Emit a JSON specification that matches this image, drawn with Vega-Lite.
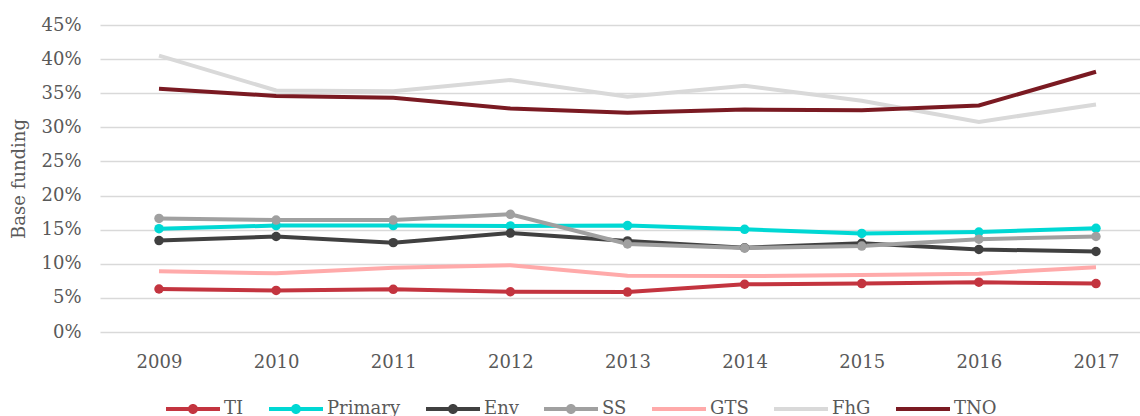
{
  "$schema": "https://vega.github.io/schema/vega-lite/v6.json",
  "autosize": {"type": "none"},
  "width": 1040,
  "height": 307,
  "padding": {"left": 100, "top": 25, "right": 0, "bottom": 84},
  "background": "white",
  "config": {
    "view": {"stroke": null},
    "font": "DejaVu Serif",
    "axis": {"labelFont": "DejaVu Serif", "titleFont": "DejaVu Serif", "labelColor": "#595959", "titleColor": "#595959", "labelFontSize": 18, "titleFontSize": 18, "titleFontWeight": "normal"},
    "legend": {"labelFont": "DejaVu Serif", "labelFontSize": 18, "labelColor": "#595959"}
  },
  "data": {"values": [
    {"year": "2009", "series": "TI", "v": 0.063}, {"year": "2010", "series": "TI", "v": 0.061}, {"year": "2011", "series": "TI", "v": 0.0625}, {"year": "2012", "series": "TI", "v": 0.059}, {"year": "2013", "series": "TI", "v": 0.0585}, {"year": "2014", "series": "TI", "v": 0.070}, {"year": "2015", "series": "TI", "v": 0.071}, {"year": "2016", "series": "TI", "v": 0.073}, {"year": "2017", "series": "TI", "v": 0.071},
    {"year": "2009", "series": "Primary", "v": 0.1515}, {"year": "2010", "series": "Primary", "v": 0.156}, {"year": "2011", "series": "Primary", "v": 0.156}, {"year": "2012", "series": "Primary", "v": 0.1555}, {"year": "2013", "series": "Primary", "v": 0.156}, {"year": "2014", "series": "Primary", "v": 0.1505}, {"year": "2015", "series": "Primary", "v": 0.1445}, {"year": "2016", "series": "Primary", "v": 0.1465}, {"year": "2017", "series": "Primary", "v": 0.152},
    {"year": "2009", "series": "Env", "v": 0.134}, {"year": "2010", "series": "Env", "v": 0.140}, {"year": "2011", "series": "Env", "v": 0.131}, {"year": "2012", "series": "Env", "v": 0.145}, {"year": "2013", "series": "Env", "v": 0.1335}, {"year": "2014", "series": "Env", "v": 0.1235}, {"year": "2015", "series": "Env", "v": 0.130}, {"year": "2016", "series": "Env", "v": 0.121}, {"year": "2017", "series": "Env", "v": 0.118},
    {"year": "2009", "series": "SS", "v": 0.1665}, {"year": "2010", "series": "SS", "v": 0.164}, {"year": "2011", "series": "SS", "v": 0.164}, {"year": "2012", "series": "SS", "v": 0.1725}, {"year": "2013", "series": "SS", "v": 0.129}, {"year": "2014", "series": "SS", "v": 0.123}, {"year": "2015", "series": "SS", "v": 0.126}, {"year": "2016", "series": "SS", "v": 0.136}, {"year": "2017", "series": "SS", "v": 0.140},
    {"year": "2009", "series": "GTS", "v": 0.089}, {"year": "2010", "series": "GTS", "v": 0.086}, {"year": "2011", "series": "GTS", "v": 0.094}, {"year": "2012", "series": "GTS", "v": 0.098}, {"year": "2013", "series": "GTS", "v": 0.0825}, {"year": "2014", "series": "GTS", "v": 0.082}, {"year": "2015", "series": "GTS", "v": 0.0835}, {"year": "2016", "series": "GTS", "v": 0.0855}, {"year": "2017", "series": "GTS", "v": 0.095},
    {"year": "2009", "series": "FhG", "v": 0.405}, {"year": "2010", "series": "FhG", "v": 0.354}, {"year": "2011", "series": "FhG", "v": 0.353}, {"year": "2012", "series": "FhG", "v": 0.3695}, {"year": "2013", "series": "FhG", "v": 0.345}, {"year": "2014", "series": "FhG", "v": 0.361}, {"year": "2015", "series": "FhG", "v": 0.339}, {"year": "2016", "series": "FhG", "v": 0.308}, {"year": "2017", "series": "FhG", "v": 0.3335},
    {"year": "2009", "series": "TNO", "v": 0.3565}, {"year": "2010", "series": "TNO", "v": 0.346}, {"year": "2011", "series": "TNO", "v": 0.3435}, {"year": "2012", "series": "TNO", "v": 0.3275}, {"year": "2013", "series": "TNO", "v": 0.3215}, {"year": "2014", "series": "TNO", "v": 0.326}, {"year": "2015", "series": "TNO", "v": 0.325}, {"year": "2016", "series": "TNO", "v": 0.332}, {"year": "2017", "series": "TNO", "v": 0.3815}
  ]},
  "encoding": {
    "x": {"field": "year", "type": "ordinal", "sort": null,
      "scale": {"type": "point", "padding": 0.4397, "align": 0.5728},
      "axis": {"title": null, "labelAngle": 0, "domain": false, "ticks": false, "grid": false, "labelPadding": 21}},
    "y": {"field": "v", "type": "quantitative",
      "scale": {"domain": [0, 0.45], "nice": false},
      "axis": {"title": "Base funding", "values": [0, 0.05, 0.1, 0.15, 0.2, 0.25, 0.3, 0.35, 0.4, 0.45], "format": ".0%", "domain": false, "ticks": false, "grid": true, "gridColor": "#D9D9D9", "gridWidth": 1.5, "labelPadding": 19, "titlePadding": 12}},
    "color": {"field": "series", "type": "nominal",
      "scale": {"domain": ["TI", "Primary", "Env", "SS", "GTS", "FhG", "TNO"], "range": ["#C3343F", "#00D8D4", "#404040", "#A0A0A0", "#FFAAAA", "#D9D9D9", "#7A1A22"]},
      "legend": {"title": null, "orient": "none", "direction": "horizontal", "columns": 7, "legendX": 66, "legendY": 357, "padding": 0,
        "symbolSize": 2916, "symbolStrokeWidth": 0, "labelOffset": 4, "columnPadding": 25, "labelBaseline": "middle",
        "encode": {"symbols": {"update": {
          "shape": {"signal": "indexof(['TI','Primary','Env','SS'], datum.value) >= 0 ? 'M-1,-0.074L-0.17,-0.074L-0.17,0.074L-1,0.074Z M0.17,-0.074L1,-0.074L1,0.074L0.17,0.074Z M-0.185,0A0.185,0.185,0,1,1,0.185,0A0.185,0.185,0,1,1,-0.185,0Z' : 'M-1,-0.074L1,-0.074L1,0.074L-1,0.074Z'"},
          "fill": {"signal": "scale('color', datum.value)"},
          "fillOpacity": {"value": 1},
          "stroke": {"value": "transparent"},
          "strokeWidth": {"value": 0}
        }}}}}
  },
  "layer": [
    {"transform": [{"filter": "indexof(['TI','Primary','Env','SS'], datum.series) >= 0"}],
     "mark": {"type": "line", "strokeWidth": 4}},
    {"transform": [{"filter": "indexof(['TI','Primary','Env','SS'], datum.series) >= 0"}],
     "mark": {"type": "point", "filled": true, "size": 90, "opacity": 1}},
    {"transform": [{"filter": "indexof(['GTS','FhG','TNO'], datum.series) >= 0"}],
     "mark": {"type": "line", "strokeWidth": 4}}
  ]
}
